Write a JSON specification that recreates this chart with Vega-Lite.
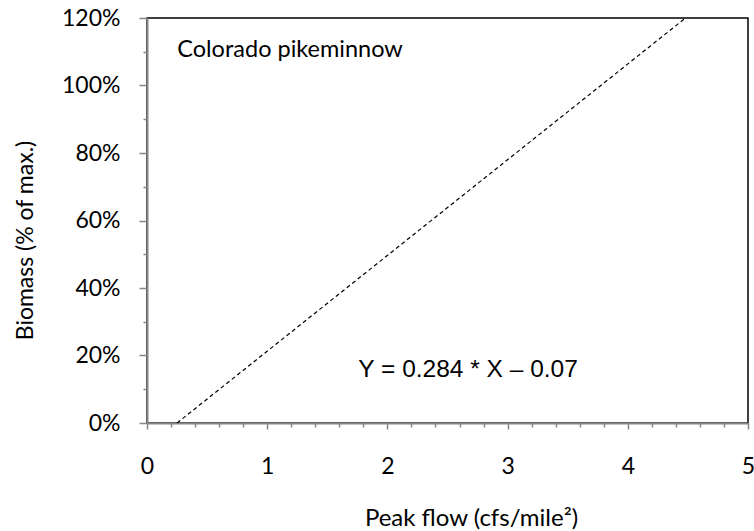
{
  "$schema": "https://vega.github.io/schema/vega-lite/v6.json",
  "width": 601,
  "height": 405,
  "autosize": {"type": "none"},
  "padding": {"left": 147, "top": 18, "right": 6, "bottom": 108},
  "background": "white",
  "config": {
    "view": {"stroke": "black", "strokeWidth": 1.5},
    "font": "Lato",
    "axis": {
      "domainColor": "#878787",
      "domainWidth": 2,
      "tickColor": "#878787",
      "tickWidth": 1.5,
      "grid": false,
      "labelFont": "Lato",
      "labelFontSize": 23,
      "labelColor": "black",
      "titleFont": "Lato",
      "titleFontSize": 23,
      "titleFontWeight": "normal",
      "titleColor": "black"
    }
  },
  "layer": [
    {
      "data": {"values": [{"x": 0.25, "y": 0}, {"x": 4.48, "y": 1.2}]},
      "mark": {"type": "line", "color": "black", "strokeWidth": 1.2, "strokeDash": [4, 3]},
      "encoding": {
        "x": {
          "field": "x", "type": "quantitative",
          "scale": {"domain": [0, 5], "nice": false, "zero": false},
          "axis": {
            "title": "Peak flow (cfs/mile²)",
            "titleFontSize": 24,
            "values": [0, 0.2, 0.4, 0.6, 0.8, 1, 1.2, 1.4, 1.6, 1.8, 2, 2.2, 2.4, 2.6, 2.8, 3, 3.2, 3.4, 3.6, 3.8, 4, 4.2, 4.4, 4.6, 4.8, 5],
            "tickCount": 200,
            "labelExpr": "abs(datum.value - round(datum.value)) < 0.001 ? format(datum.value, 'd') : ''",
            "tickSize": {"condition": {"test": "abs(datum.value - round(datum.value)) < 0.001", "value": 6}, "value": 4},
            "labelPadding": 44,
            "labelBaseline": "alphabetic",
            "labelFlush": false,
            "labelOverlap": false,
            "titleX": 324,
            "titleY": 102,
            "titleAlign": "center",
            "titleBaseline": "alphabetic"
          }
        },
        "y": {
          "field": "y", "type": "quantitative",
          "scale": {"domain": [0, 1.2], "nice": false, "zero": false},
          "axis": {
            "title": "Biomass (% of max.)",
            "values": [0, 0.1, 0.2, 0.3, 0.4, 0.5, 0.6, 0.7, 0.8, 0.9, 1, 1.1, 1.2],
            "tickCount": 200,
            "labelExpr": "round(datum.value * 10) % 2 === 0 ? format(datum.value, '.0%') : ''",
            "tickSize": {"condition": {"test": "round(datum.value * 10) % 2 === 0", "value": 8}, "value": 4},
            "labelPadding": 19,
            "labelBaseline": "middle",
            "labelFlush": false,
            "labelOverlap": false,
            "titleX": -122,
            "titleY": 222,
            "titleAngle": -90,
            "titleAlign": "center",
            "titleBaseline": "middle"
          }
        }
      }
    },
    {
      "data": {"values": [
        {"x": 0.252, "y": 1.0844, "label": "Colorado pikeminnow", "kind": "title"}
      ]},
      "mark": {"type": "text", "align": "left", "baseline": "alphabetic", "font": "Lato", "fontSize": 23.5, "color": "black"},
      "encoding": {
        "x": {"field": "x", "type": "quantitative"},
        "y": {"field": "y", "type": "quantitative"},
        "text": {"field": "label"}
      }
    },
    {
      "data": {"values": [
        {"x": 1.758, "y": 0.1354, "label": "Y = 0.284 * X – 0.07", "kind": "equation"}
      ]},
      "mark": {"type": "text", "align": "left", "baseline": "alphabetic", "font": "Liberation Sans", "fontSize": 24.5, "color": "black"},
      "encoding": {
        "x": {"field": "x", "type": "quantitative"},
        "y": {"field": "y", "type": "quantitative"},
        "text": {"field": "label"}
      }
    }
  ]
}
